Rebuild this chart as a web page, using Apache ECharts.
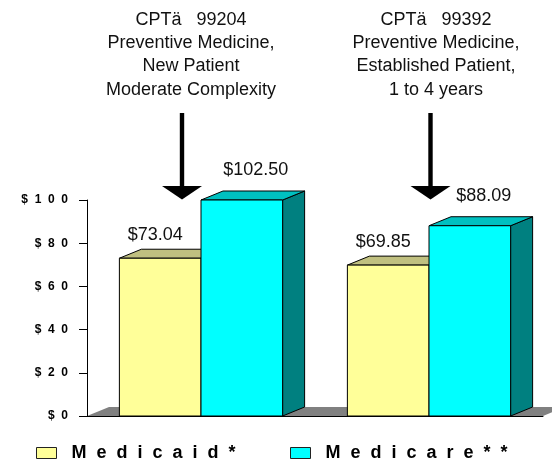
<!DOCTYPE html>
<html>
<head>
<meta charset="utf-8">
<script src="https://cdn.jsdelivr.net/npm/echarts@6/dist/echarts.min.js"></script>
<style>
  html, body { margin: 0; padding: 0; background: #fff; }
  #chart { width: 552px; height: 462px; }
</style>
</head>
<body>
<div id="chart"></div>
<script>
// data
var categories = ['99204', '99392'];
var seriesNames = ['Medicaid*', 'Medicare**'];
var medicaid = [73.04, 69.85];
var medicare = [102.50, 88.09];
var yMin = 0, yMax = 100, yStep = 20;
var notes = [
  ['CPT\u00e4   99204', 'Preventive Medicine,', 'New Patient', 'Moderate Complexity'],
  ['CPT\u00e4   99392', 'Preventive Medicine,', 'Established Patient,', '1 to 4 years']
];

var FONT = '"Liberation Sans", Arial, sans-serif';
var GRID = { left: 87, top: 200, right: 9, bottom: 46 };
var DX = 22, DY = 9;       // depth of the fake 3d
var BAR_FRAC = 0.358;      // one bar width as part of a category band
var W = 552, H = 462;

// spread letters like the old chart did
function spaced(s) {
  return s.split('').join('  ');
}

function bar3d(side, front, topc, sidec, labelDx, labelDy) {
  return function(params, api) {
    var cat = api.value(0);
    var val = api.value(1);
    var shown = Math.min(val, yMax); // bars over the max get cut at the top
    var base = api.coord([cat, yMin]);
    var top = api.coord([cat, shown]);
    var w = api.size([1, 0])[0] * BAR_FRAC;
    var x0 = side === 0 ? base[0] - w : base[0];
    var x1 = x0 + w;
    var yb = base[1], yt = top[1];
    var line = { stroke: '#000', lineWidth: 1 };
    return {
      type: 'group',
      children: [
        {
          type: 'polygon',
          shape: { points: [[x1, yt], [x1 + DX, yt - DY], [x1 + DX, yb - DY], [x1, yb]] },
          style: Object.assign({ fill: sidec }, line)
        },
        {
          type: 'polygon',
          shape: { points: [[x0, yt], [x1, yt], [x1 + DX, yt - DY], [x0 + DX, yt - DY]] },
          style: Object.assign({ fill: topc }, line)
        },
        {
          type: 'rect',
          shape: { x: x0, y: yt, width: w, height: yb - yt },
          style: Object.assign({ fill: front }, line)
        },
        {
          type: 'text',
          style: {
            text: '$' + val.toFixed(2),
            x: (x0 + x1) / 2 + labelDx,
            y: yt - labelDy,
            align: 'center',
            verticalAlign: 'middle',
            font: '18px ' + FONT,
            fill: '#111'
          }
        }
      ]
    };
  };
}

function pairs(vals) {
  var out = [];
  for (var i = 0; i < vals.length; i++) {
    out.push([i, vals[i]]);
  }
  return out;
}

function noteGraphics() {
  var xs = [191, 436];
  var arrowX = [182, 430.5];
  var g = [];
  for (var i = 0; i < notes.length; i++) {
    g.push({
      type: 'text',
      x: xs[i],
      y: 8,
      style: {
        text: notes[i].join('\n'),
        align: 'center',
        verticalAlign: 'top',
        font: '18px ' + FONT,
        lineHeight: 23.4,
        fill: '#111'
      }
    });
    g.push({
      type: 'rect',
      shape: { x: arrowX[i] - 2.2, y: 113, width: 4.4, height: 75 },
      style: { fill: '#000' }
    });
    g.push({
      type: 'polygon',
      shape: { points: [[arrowX[i] - 20, 186], [arrowX[i] + 20, 186], [arrowX[i], 199.5]] },
      style: { fill: '#000' }
    });
  }
  // floor of the 3d chart
  var fx0 = GRID.left, fx1 = W - GRID.right, fy = H - GRID.bottom;
  g.push({
    type: 'polygon',
    z: -1,
    shape: { points: [[fx0, fy], [fx1, fy], [fx1 + DX, fy - DY], [fx0 + DX, fy - DY]] },
    style: { fill: '#808080' }
  });
  return g;
}

function legendAt(left, name) {
  return {
    left: left,
    top: 444,
    padding: 0,
    itemWidth: 20,
    itemHeight: 11,
    data: [name],
    icon: 'rect',
    itemStyle: { borderColor: '#222', borderWidth: 1 },
    formatter: function(n) { return '  ' + spaced(n); },
    textStyle: { fontFamily: FONT, fontWeight: 'bold', fontSize: 18, color: '#000' }
  };
}

var chart = echarts.init(document.getElementById('chart'));

chart.setOption({
  backgroundColor: '#fff',
  animation: false,
  grid: GRID,
  legend: [legendAt(36, seriesNames[0]), legendAt(290, seriesNames[1])],
  xAxis: {
    type: 'category',
    data: categories,
    axisLine: { show: true, lineStyle: { color: '#000', width: 1 } },
    axisTick: { show: false },
    axisLabel: { show: false },
    splitLine: { show: false }
  },
  yAxis: {
    type: 'value',
    min: yMin,
    max: yMax,
    interval: yStep,
    axisLine: { show: true, lineStyle: { color: '#000', width: 1 } },
    axisTick: { show: true, length: 8, lineStyle: { color: '#000' } },
    splitLine: { show: false },
    axisLabel: {
      margin: 19,
      fontFamily: FONT,
      fontWeight: 'bold',
      fontSize: 12,
      color: '#000',
      formatter: function(v) { return spaced('$' + v); }
    }
  },
  graphic: noteGraphics(),
  series: [
    {
      name: seriesNames[0],
      type: 'custom',
      itemStyle: { color: '#FFFF99' },
      renderItem: bar3d(0, '#FFFF99', '#C0C080', '#808040', -5, 23),
      encode: { x: 0, y: 1 },
      data: pairs(medicaid)
    },
    {
      name: seriesNames[1],
      type: 'custom',
      itemStyle: { color: '#00FFFF' },
      renderItem: bar3d(1, '#00FFFF', '#00C0C0', '#008080', 14, 29.5),
      encode: { x: 0, y: 1 },
      data: pairs(medicare)
    }
  ]
});

window.addEventListener('resize', chart.resize);
</script>
</body>
</html>
